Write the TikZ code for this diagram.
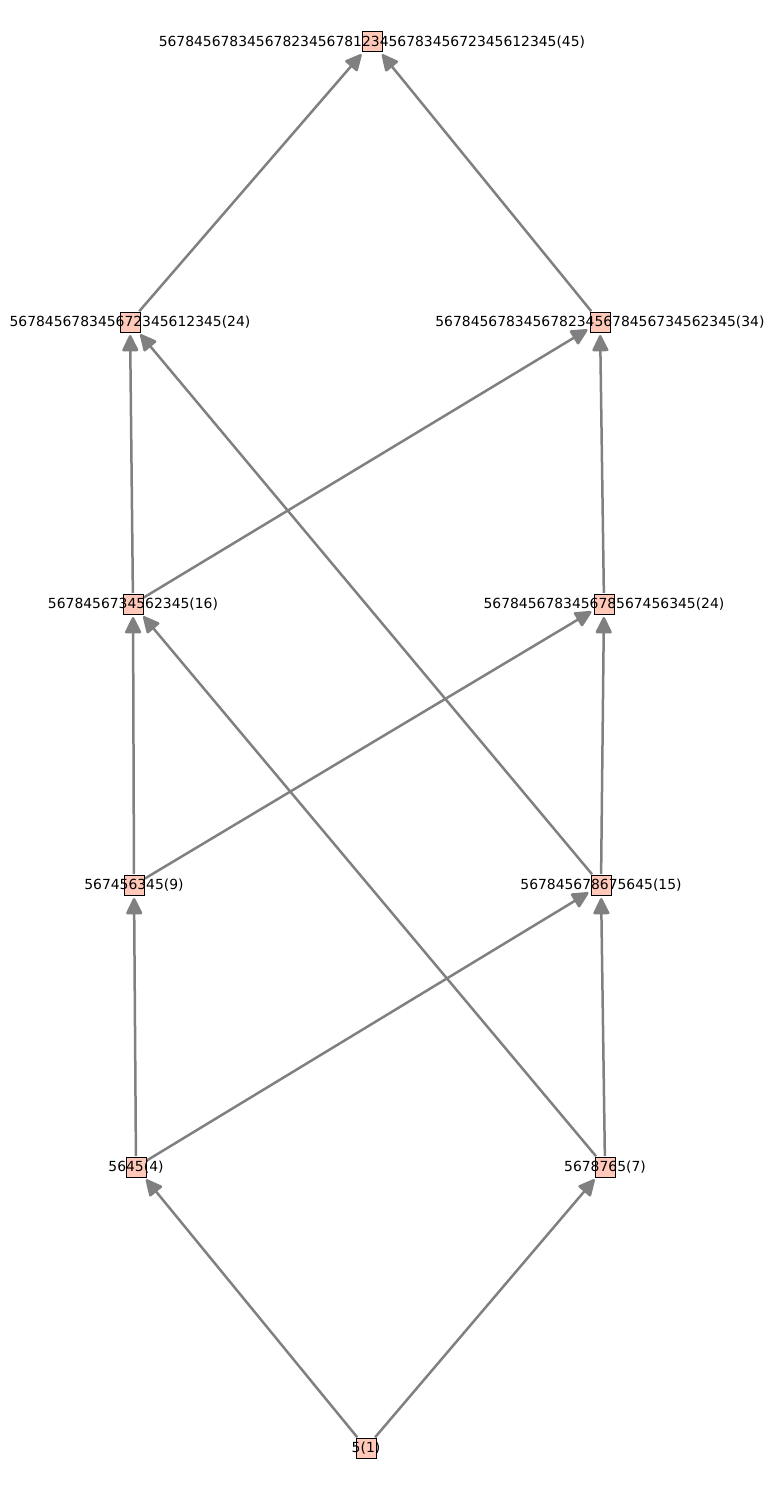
\documentclass[tikz,border=0pt]{standalone}
\usepackage{fontspec}
\setmainfont{DejaVu Sans}
\usetikzlibrary{arrows.meta,backgrounds}
\definecolor{vfill}{HTML}{FFC8B9}
\definecolor{edgegray}{HTML}{808080}
\tikzset{
  vbox/.style={draw=black,fill=vfill,line width=1pt,minimum size=20pt,inner sep=0pt,outer sep=0pt},
  vtext/.style={font=\fontsize{13.9}{15}\selectfont,text=black,inner sep=0pt},
  cover/.style={draw=edgegray,line width=2.5pt,-{Triangle[round,length=18pt,width=17pt]},shorten >=3pt,shorten <=1pt}
}
\begin{document}
\begin{tikzpicture}[x=1pt,y=-1pt]
\useasboundingbox (0,0) rectangle (773,1490);
\node[vbox,label={[vtext]center:567845678345678234567812345678345672345612345(45)}] (top) at (372,42) {};
\node[vbox,label={[vtext]center:567845678345672345612345(24)}] (l24) at (130,322) {};
\node[vbox,label={[vtext]center:5678456783456782345678456734562345(34)}] (r34) at (600,322) {};
\node[vbox,label={[vtext]center:5678456734562345(16)}] (l16) at (133,604) {};
\node[vbox,label={[vtext]center:567845678345678567456345(24)}] (r24) at (604,604) {};
\node[vbox,label={[vtext]center:567456345(9)}] (l9) at (134,885) {};
\node[vbox,label={[vtext]center:567845678675645(15)}] (r15) at (601,885) {};
\node[vbox,label={[vtext]center:5645(4)}] (l4) at (136,1167) {};
\node[vbox,label={[vtext]center:5678765(7)}] (r7) at (605,1167) {};
\node[vbox,label={[vtext]center:5(1)}] (bot) at (366,1448) {};
\begin{scope}[on background layer]
\draw[cover] (bot) -- (l4);
\draw[cover] (bot) -- (r7);
\draw[cover] (l4) -- (l9);
\draw[cover] (l4) -- (r15);
\draw[cover] (r7) -- (r15);
\draw[cover] (r7) -- (l16);
\draw[cover] (l9) -- (l16);
\draw[cover] (l9) -- (r24);
\draw[cover] (r15) -- (r24);
\draw[cover] (r15) -- (l24);
\draw[cover] (l16) -- (l24);
\draw[cover] (l16) -- (r34);
\draw[cover] (r24) -- (r34);
\draw[cover] (l24) -- (top);
\draw[cover] (r34) -- (top);
\end{scope}
\end{tikzpicture}
\end{document}
